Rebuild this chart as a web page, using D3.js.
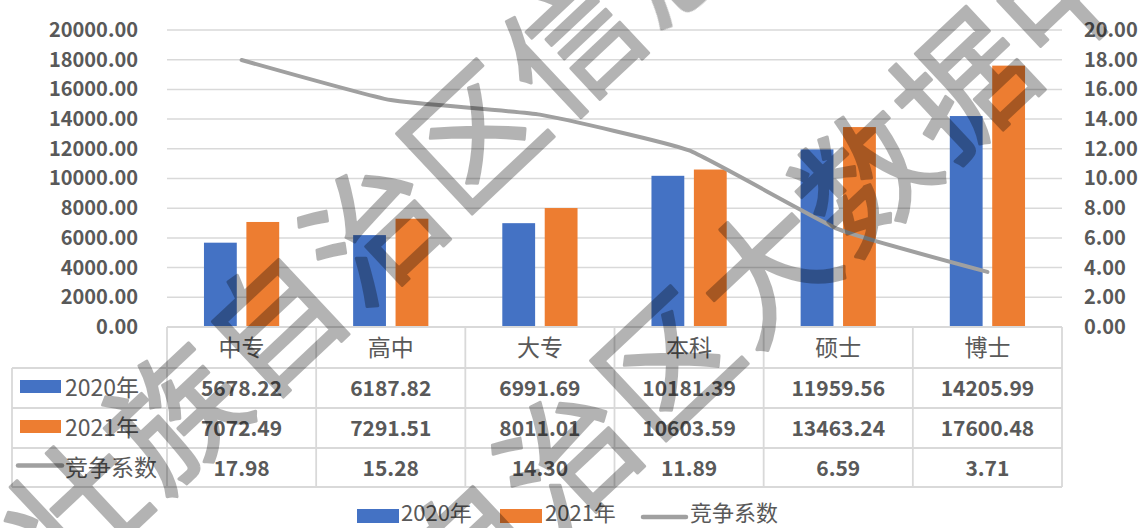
<!DOCTYPE html>
<html><head><meta charset="utf-8">
<script src="https://cdn.jsdelivr.net/npm/d3@7"></script>
<style>
html,body{margin:0;padding:0;background:#fff;}
svg{display:block;}
text{font-family:"Noto Sans CJK SC","Open Sans",sans-serif;}
</style></head>
<body><svg id="c" width="1141" height="528"></svg>
<script>
const categories = ['中专','高中','大专','本科','硕士','博士'];
const series2020 = [5678.22, 6187.82, 6991.69, 10181.39, 11959.56, 14205.99];
const series2021 = [7072.49, 7291.51, 8011.01, 10603.59, 13463.24, 17600.48];
const coefficient = [17.98, 15.28, 14.30, 11.89, 6.59, 3.71];
const seriesNames = ['2020年','2021年','竞争系数'];
const leftTicks = [0,2000,4000,6000,8000,10000,12000,14000,16000,18000,20000];
const rightTicks = [0,2,4,6,8,10,12,14,16,18,20];
const watermarkLines = ['壮族自治区信息', '自治区大数据中心'];

const BLUE = '#4472C4', ORANGE = '#ED7D31', GRAY = '#A0A0A0';
const TXT = '#595959', GRID = '#D9D9D9';

const svg = d3.select('#c');
const pL = 167, pR = 1062, pT = 30, pB = 327;
const x = d3.scaleBand().domain(categories).range([pL, pR]).padding(0);
const y = d3.scaleLinear().domain([0, 20000]).range([pB, pT]);
const y2 = d3.scaleLinear().domain([0, 20]).range([pB, pT]);

// gridlines
svg.append('g').selectAll('line').data(leftTicks.slice(1)).join('line')
  .attr('x1', pL).attr('x2', pR)
  .attr('y1', d => y(d)).attr('y2', d => y(d))
  .attr('stroke', GRID).attr('stroke-width', 1.5);

// left axis
const gl = svg.append('g').attr('transform', `translate(${pL - 29},0)`)
  .call(d3.axisLeft(y).tickValues(leftTicks).tickFormat(d3.format('.2f')).tickSize(0).tickPadding(0));
gl.select('.domain').remove();
gl.selectAll('text').attr('fill', TXT).attr('font-size', 20).attr('font-weight', 'bold')
  .attr('font-family', '"Noto Sans CJK SC",sans-serif');

// right axis
const gr = svg.append('g').attr('transform', `translate(${pR + 22},0)`)
  .call(d3.axisRight(y2).tickValues(rightTicks).tickFormat(d3.format('.2f')).tickSize(0).tickPadding(0));
gr.select('.domain').remove();
gr.selectAll('text').attr('fill', TXT).attr('font-size', 20).attr('font-weight', 'bold')
  .attr('font-family', '"Noto Sans CJK SC",sans-serif');

// bars
const bw = x.bandwidth() * 0.22, gap = 4.8;
const cx = d => x(d) + x.bandwidth() / 2;
svg.append('g').selectAll('rect').data(categories).join('rect')
  .attr('x', (d) => cx(d) - gap - bw).attr('width', bw)
  .attr('y', (d, i) => y(series2020[i])).attr('height', (d, i) => y(0) - y(series2020[i]))
  .attr('fill', BLUE);
svg.append('g').selectAll('rect').data(categories).join('rect')
  .attr('x', (d) => cx(d) + gap).attr('width', bw)
  .attr('y', (d, i) => y(series2021[i])).attr('height', (d, i) => y(0) - y(series2021[i]))
  .attr('fill', ORANGE);

// line
const line = d3.line().x(d => cx(d[0])).y(d => y2(d[1])).curve(d3.curveCardinal.tension(0.6));
svg.append('path').datum(categories.map((c, i) => [c, coefficient[i]]))
  .attr('d', line).attr('fill', 'none').attr('stroke', GRAY)
  .attr('stroke-width', 4).attr('stroke-linecap', 'round').attr('stroke-linejoin', 'round');

// data table
const tableLeft = 12;
const rowsY = [pB, pB + 41, pB + 81, pB + 121, pB + 160];
const tb = svg.append('g');
const bounds = [pL, ...categories.map(c => x(c) + x.bandwidth())];
tb.append('line').attr('x1', pL).attr('x2', pR).attr('y1', rowsY[0]).attr('y2', rowsY[0])
  .attr('stroke', GRID).attr('stroke-width', 1.8);
rowsY.slice(1).forEach(yy => tb.append('line').attr('x1', tableLeft).attr('x2', pR)
  .attr('y1', yy).attr('y2', yy).attr('stroke', GRID).attr('stroke-width', 1.8));
bounds.forEach(xx => tb.append('line').attr('x1', xx).attr('x2', xx)
  .attr('y1', rowsY[0]).attr('y2', rowsY[4]).attr('stroke', GRID).attr('stroke-width', 1.8));
tb.append('line').attr('x1', tableLeft).attr('x2', tableLeft).attr('y1', rowsY[1]).attr('y2', rowsY[4])
  .attr('stroke', GRID).attr('stroke-width', 1.8);

tb.selectAll('text.h').data(categories).join('text').attr('class', 'h')
  .attr('x', d => cx(d)).attr('y', (rowsY[0] + rowsY[1]) / 2 + 8)
  .attr('text-anchor', 'middle').attr('fill', TXT).attr('font-size', 23).text(d => d);
const fmt = d3.format('.2f');
[series2020, series2021, coefficient].forEach((arr, r) => {
  const yc = (rowsY[r + 1] + rowsY[r + 2]) / 2;
  tb.selectAll('text.r' + r).data(categories).join('text').attr('class', 'r' + r)
    .attr('x', d => cx(d)).attr('y', yc + 8).attr('text-anchor', 'middle')
    .attr('fill', TXT).attr('font-size', 21).attr('font-weight', 'bold').text((d, i) => fmt(arr[i]));
  if (r < 2) {
    tb.append('rect').attr('x', 20).attr('y', yc - 8).attr('width', 41).attr('height', 13)
      .attr('fill', r === 0 ? BLUE : ORANGE);
  } else {
    tb.append('line').attr('x1', 18).attr('x2', 62).attr('y1', yc - 2).attr('y2', yc - 2)
      .attr('stroke', GRAY).attr('stroke-width', 4.5).attr('stroke-linecap', 'round');
  }
  tb.append('text').attr('x', 65).attr('y', yc + 8).attr('fill', TXT).attr('font-size', 23)
    .text(seriesNames[r]);
});

// bottom legend
const lg = svg.append('g');
const ly = 516;
lg.append('rect').attr('x', 357).attr('y', ly - 7).attr('width', 42).attr('height', 14).attr('fill', BLUE);
lg.append('text').attr('x', 401).attr('y', ly + 5).attr('fill', TXT).attr('font-size', 22).text(seriesNames[0]);
lg.append('rect').attr('x', 500).attr('y', ly - 7).attr('width', 42).attr('height', 14).attr('fill', ORANGE);
lg.append('text').attr('x', 545).attr('y', ly + 5).attr('fill', TXT).attr('font-size', 22).text(seriesNames[1]);
lg.append('line').attr('x1', 643).attr('x2', 686).attr('y1', ly + 1).attr('y2', ly + 1)
  .attr('stroke', GRAY).attr('stroke-width', 4.5).attr('stroke-linecap', 'round');
lg.append('text').attr('x', 690).attr('y', ly + 5).attr('fill', TXT).attr('font-size', 22).text(seriesNames[2]);

// watermark
const wm = svg.append('g').attr('pointer-events', 'none').attr('opacity', 0.3);
const starts = [[71, 503], [463, 544]];
const step = [99, -93];
const angle = -43.2;
watermarkLines.forEach((s, li) => {
  Array.from(s).forEach((ch, i) => {
    const px = starts[li][0] + i * step[0], py = starts[li][1] + i * step[1];
    wm.append('text').attr('x', 0).attr('y', 0)
      .attr('transform', `translate(${px},${py}) rotate(${angle})`)
      .attr('text-anchor', 'middle').attr('dominant-baseline', 'central')
      .attr('font-size', 132).attr('fill', '#000').attr('stroke', '#000').attr('stroke-width', 3)
      .attr('stroke-linejoin', 'round')
      .text(ch);
  });
});
</script></body></html>
